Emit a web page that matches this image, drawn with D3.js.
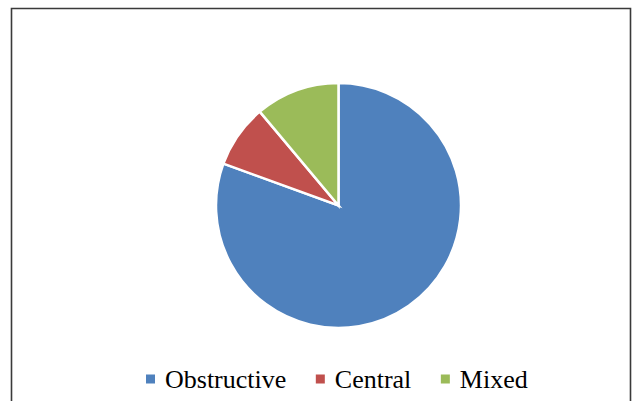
<!DOCTYPE html>
<html>
<head>
<meta charset="utf-8">
<script src="https://cdn.jsdelivr.net/npm/d3@7"></script>
</head>
<body style="margin:0">
<svg id="chart" width="633" height="401"></svg>
<script>
// Apnea types and patient counts
const categories = ["Obstructive", "Central", "Mixed"];
const counts = [29, 3, 4];
const colors = ["#4F81BD", "#C0504D", "#9BBB59"];

const svg = d3.select("#chart");

// Chart area frame (runs off the bottom edge)
svg.append("path")
  .attr("d", "M11.5,412 V8.5 H630.5 V412")
  .attr("fill", "none")
  .attr("stroke", "#3a3a3a")
  .attr("stroke-width", 1.6);

const data = categories.map((c, i) => ({ name: c, value: counts[i], color: colors[i] }));

const pie = d3.pie()
  .value(d => d.value)
  .sort(null)
  .startAngle(0)
  .endAngle(2 * Math.PI);

const arc = d3.arc().innerRadius(0).outerRadius(122.5);

const cx = 338.5, cy = 205.5;
const g = svg.append("g").attr("transform", `translate(${cx},${cy})`);

g.selectAll("path.slice")
  .data(pie(data))
  .join("path")
  .attr("class", "slice")
  .attr("d", arc)
  .attr("fill", d => d.data.color)
  .attr("stroke", "#fff")
  .attr("stroke-width", 2.5)
  .attr("stroke-linejoin", "miter");

// Legend: square marker followed by its label, laid out left to right
const legend = svg.append("g").attr("class", "legend");
let x = 146;
const baseline = 388;
data.forEach((d, i) => {
  legend.append("rect")
    .attr("x", x)
    .attr("y", 374.5)
    .attr("width", 9)
    .attr("height", 9)
    .attr("fill", d.color);
  const t = legend.append("text")
    .attr("x", x + 19)
    .attr("y", baseline)
    .style("font-family", `"Liberation Serif", monospace`)
    .attr("font-size", 26)
    .attr("fill", "#000")
    .text(d.name);
  x = x + 19 + t.node().getComputedTextLength() + 29.5;
});
</script>
</body>
</html>
